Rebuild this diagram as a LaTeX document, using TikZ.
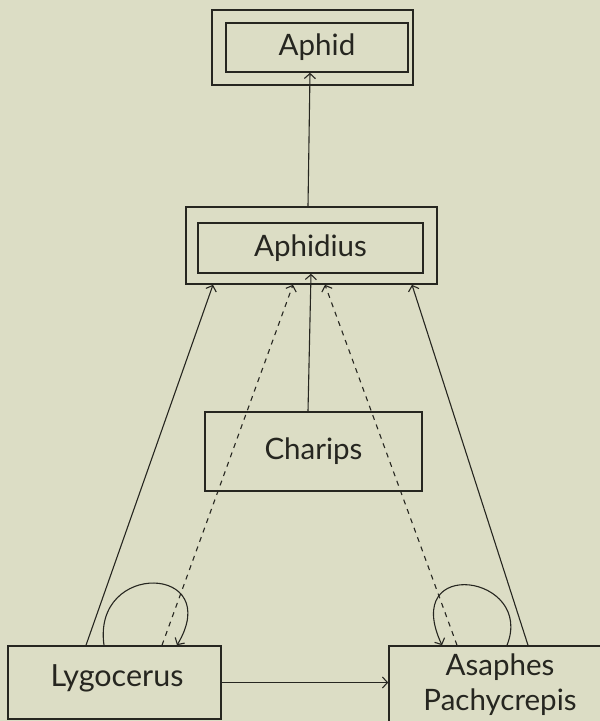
\documentclass[tikz,border=0pt]{standalone}
\usepackage{fontspec}
\setmainfont{Lato}
\usetikzlibrary{arrows.meta}
\definecolor{paper}{RGB}{220,221,197}
\definecolor{ink}{RGB}{38,38,32}
\tikzset{
  label/.style={text=ink, font=\fontsize{29.5}{35}\selectfont},
  box/.style={draw=ink, line width=1.6pt, rectangle, inner sep=0pt, label},
  link/.style={draw=ink, line width=1.1pt, -{Straight Barb[length=5pt,width=11pt,line width=1.1pt]}},
  dlink/.style={link, dash pattern=on 5pt off 5pt},
}
\begin{document}
\begin{tikzpicture}[x=1pt,y=-1pt]
  \fill[paper] (0,0) rectangle (600,721);
  \useasboundingbox (0,0) rectangle (600,721);
  \clip (0,0) rectangle (600,721);

  % host and primary parasite, each in a double frame
  \node[box, minimum width=201pt, minimum height=75pt] (aphidOut) at (312.5,47.5) {};
  \node[box, minimum width=182pt, minimum height=49pt] (aphidIn) at (317,47.5) {Aphid};
  \node[box, minimum width=251pt, minimum height=77pt] (aphidiusOut) at (311.5,245.5) {};
  \node[box, minimum width=225pt, minimum height=50pt] (aphidiusIn) at (310.5,248) {Aphidius};

  % hyperparasites
  \node[box, minimum width=217pt, minimum height=79pt] (charips) at (313.5,451.5) {Charips};
  \node[box, minimum width=213pt, minimum height=73pt] (lygo) at (114.5,682.5) {};
  \node[label, font=\fontsize{30.5}{35}\selectfont] (lygoText) at (117,678) {Lygocerus};
  \node[box, minimum width=221pt, minimum height=79pt] (asaph) at (499.5,685.5) {};
  \node[label, align=center] (asaphText) at (500,685) {Asaphes\\Pachycrepis};

  % feeding links
  \draw[link] ([xshift=-3.5pt]aphidiusOut.north) -- ([xshift=-7pt]aphidIn.south);
  \draw[link] ([xshift=-5.5pt]charips.north) -- ([xshift=0.5pt]aphidiusIn.south);
  \draw[link] ([xshift=-28.5pt]lygo.north) -- ([xshift=-98.5pt]aphidiusOut.south);
  \draw[link] ([xshift=28.5pt]asaph.north) -- ([xshift=100.5pt]aphidiusOut.south);
  \draw[dlink] ([xshift=47.5pt]lygo.north) -- ([xshift=-18.5pt]aphidiusOut.south);
  \draw[dlink] ([xshift=-42.5pt]asaph.north) -- ([xshift=13.5pt]aphidiusOut.south);
  \draw[link] (lygo.east) -- (lygo.east -| asaph.west);

  % self loops
  \draw[link] ([xshift=-10.5pt]lygo.north) .. controls (92,560) and (225,565) .. ([xshift=62.5pt]lygo.north);
  \draw[link] ([xshift=7.5pt]asaph.north) .. controls (535,575) and (400,555) .. ([xshift=-57.5pt]asaph.north);
\end{tikzpicture}
\end{document}
